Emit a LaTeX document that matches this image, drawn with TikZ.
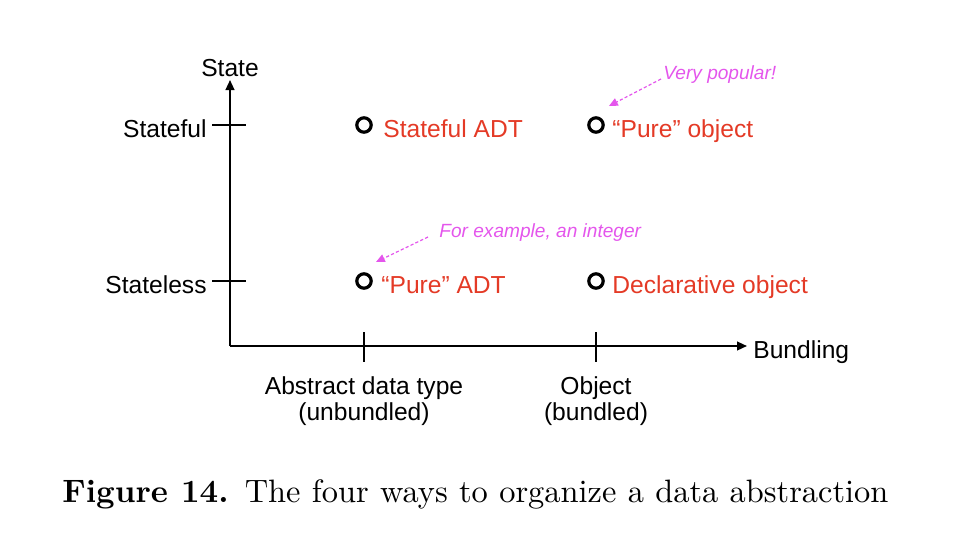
\documentclass[tikz,border=0pt]{standalone}
\usepackage{fontspec}
\newfontfamily\arial{Liberation Sans}
\newfontfamily\capfont{lmroman10-regular}[Extension=.otf,BoldFont=lmroman10-bold]
\usepackage{xcolor}
\usetikzlibrary{arrows.meta}
\definecolor{adtred}{RGB}{228,58,38}
\definecolor{notepink}{RGB}{228,86,236}

\begin{document}
\begin{tikzpicture}[x=0.5pt,y=-0.5pt,
  lab/.style={font=\arial\fontsize{12.3}{13}\selectfont,inner sep=0pt},
  kind/.style={lab,text=adtred,anchor=base west},
  note/.style={font=\arial\itshape\fontsize{9.55}{11}\selectfont,text=notepink,inner sep=0pt,anchor=base west},
  dot/.style={circle,draw,line width=1.6pt,minimum size=7.2pt,inner sep=0pt},
  axis/.style={line width=.9pt,-{Triangle[length=5pt,width=4.4pt]}},
  tick/.style={line width=.8pt},
  hint/.style={notepink,line width=.6pt,dash pattern=on 1.6pt off 1.1pt,-{Triangle[length=4.4pt,width=4pt]}}]
  \useasboundingbox (0,0) rectangle (960,553);

  % axes
  \coordinate (o) at (230,346);
  \coordinate (ytop) at (230,80);
  \coordinate (xend) at (747,346);
  \draw[axis] (o) -- (ytop);
  \draw[axis] (o) -- (xend);
  \node[lab,anchor=south] (state) at (230,77) {State};
  \node[lab,anchor=west] (bund) at (753,352) {Bundling};

  % state ticks
  \foreach \y/\nm/\txt in {125/full/Stateful,281/less/Stateless}{
    \coordinate (t\nm a) at (212,\y);
    \coordinate (t\nm b) at (246,\y);
    \draw[tick] (t\nm a) -- (t\nm b);
    \node[lab,anchor=base east] (l\nm) at (207,\y+12) {\txt};
  }

  % bundling ticks
  \foreach \x/\nm/\txt in {364/adt/{Abstract data type\\(unbundled)},596/obj/{Object\\(bundled)}}{
    \coordinate (t\nm a) at (\x,332);
    \coordinate (t\nm b) at (\x,362);
    \draw[tick] (t\nm a) -- (t\nm b);
    \node[lab,align=center,anchor=north] (l\nm) at (\x,376) {\txt};
  }

  % the four kinds
  \node[dot] (sadt) at (364,125) {};
  \node[dot] (sobj) at (596,125) {};
  \node[dot] (padt) at (364,281) {};
  \node[dot] (dobj) at (596,281) {};
  \node[kind] (ksadt) at (383,137) {Stateful ADT};
  \node[kind] (ksobj) at (612,137) {“Pure” object};
  \node[kind] (kpadt) at (381,293) {“Pure” ADT};
  \node[kind] (kdobj) at (612,293) {Declarative object};

  % remarks
  \node[note] (pop) at (663,79) {Very popular!};
  \node[note] (intg) at (439,237) {For example, an integer};
  \coordinate (hpop) at (609,106);
  \coordinate (hint) at (376,262);
  \draw[hint] ([shift={(-1pt,0pt)}]pop.base west) -- (hpop);
  \draw[hint] ([shift={(-5.5pt,0pt)}]intg.base west) -- (hint);

  % caption (a justified line, so the spaces stretch)
  \node[font=\capfont\fontsize{16.2}{18}\selectfont,inner sep=0pt,anchor=base west] (cap) at (62,502)
    {\hbox to 413pt{\textbf{Figure 14.}\enskip The four ways to organize a data abstraction}};
\end{tikzpicture}
\end{document}
